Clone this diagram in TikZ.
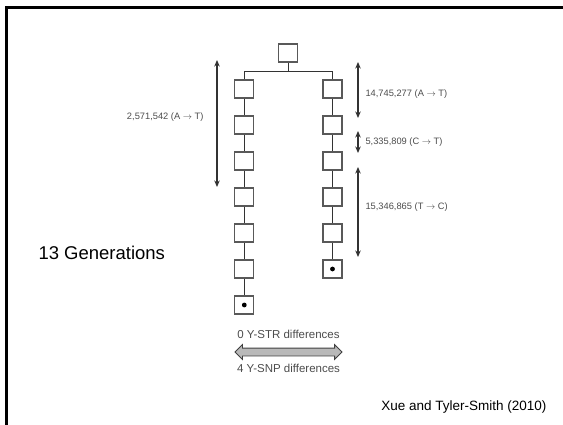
\documentclass[tikz,border=0pt]{standalone}
\usepackage{fontspec}
\setmainfont{Liberation Sans}
\usetikzlibrary{arrows.meta,positioning,shapes.arrows}

\begin{document}
\begin{tikzpicture}[
    x=1pt, y=-1pt,
    node distance=16.8pt,
    gen/.style={draw=black!65, line width=1.2pt, minimum width=19pt, minimum height=18pt, inner sep=0pt, fill=white},
    link/.style={line width=1pt, draw=black!80},
    span/.style={{Stealth[length=6.5pt,width=5.5pt]}-{Stealth[length=6.5pt,width=5.5pt]}, line width=1.1pt, draw=black!80},
    lbl/.style={font=\fontsize{9.3}{11}\selectfont, text=black!70, inner sep=1pt},
    difflbl/.style={font=\fontsize{11.5}{13}\selectfont, text=black!70, inner sep=1pt},
    dblarrow/.style={double arrow, draw=black!75, line width=0.8pt, fill=gray!55, minimum height=107pt, inner xsep=0pt, inner ysep=3.5pt, double arrow head extend=3.5pt}
]
\useasboundingbox (0,0) rectangle (563,425);
\draw[line width=3pt] (6.5,425) -- (6.5,8) -- (563,8);

% family tree
\node[gen] (top) at (288.3,53) {};

\node[gen] (l1) at (244.3,89) {};
\node[gen, below=of l1] (l2) {};
\node[gen, below=of l2] (l3) {};
\node[gen, below=of l3] (l4) {};
\node[gen, below=of l4] (l5) {};
\node[gen, below=of l5] (l6) {};
\node[gen, below=of l6] (l7) {};

\node[gen] (r1) at (332.5,89) {};
\node[gen, below=of r1] (r2) {};
\node[gen, below=of r2] (r3) {};
\node[gen, below=of r3] (r4) {};
\node[gen, below=of r4] (r5) {};
\node[gen, below=of r5] (r6) {};

\fill (l7) circle (2.4pt);
\fill (r6) circle (2.4pt);

\draw[link] (top.south) -- ++(0,8.5) coordinate (fork);
\draw[link] (l1.north) |- (fork) -| (r1.north);
\draw[link] (l1) -- (l2) -- (l3) -- (l4) -- (l5) -- (l6) -- (l7);
\draw[link] (r1) -- (r2) -- (r3) -- (r4) -- (r5) -- (r6);

% mutation spans
\coordinate (lspanA) at (217,60);
\coordinate (lspanB) at (217,187);
\coordinate (rspanA) at (358,62);
\coordinate (rspanB) at (358,118);
\coordinate (rspanC) at (358,131);
\coordinate (rspanD) at (358,153);
\coordinate (rspanE) at (358,167);
\coordinate (rspanF) at (358,257);

\draw[span] (lspanA) -- node[lbl, left=12pt, pos=0.45] {2,571,542 (A $\rightarrow$ T)} (lspanB);
\draw[span] (rspanA) -- node[lbl, right=6pt, pos=0.58] {14,745,277 (A $\rightarrow$ T)} (rspanB);
\draw[span] (rspanC) -- node[lbl, right=6pt] {5,335,809 (C $\rightarrow$ T)} (rspanD);
\draw[span] (rspanE) -- node[lbl, right=6pt, pos=0.45] {15,346,865 (T $\rightarrow$ C)} (rspanF);

% differences
\node[dblarrow] (diff) at (288.5,352) {};
\node[difflbl, above=12pt of diff.center] (str) {0 Y-STR differences};
\node[difflbl, below=11pt of diff.center] (snp) {4 Y-SNP differences};

\node[anchor=base west, font=\fontsize{18.5}{20}\selectfont] (gens) at (35,260) {13 Generations};
\node[anchor=base east, font=\fontsize{13.5}{15}\selectfont] (cite) at (550,410.5) {Xue and Tyler-Smith (2010)};
\end{tikzpicture}
\end{document}
